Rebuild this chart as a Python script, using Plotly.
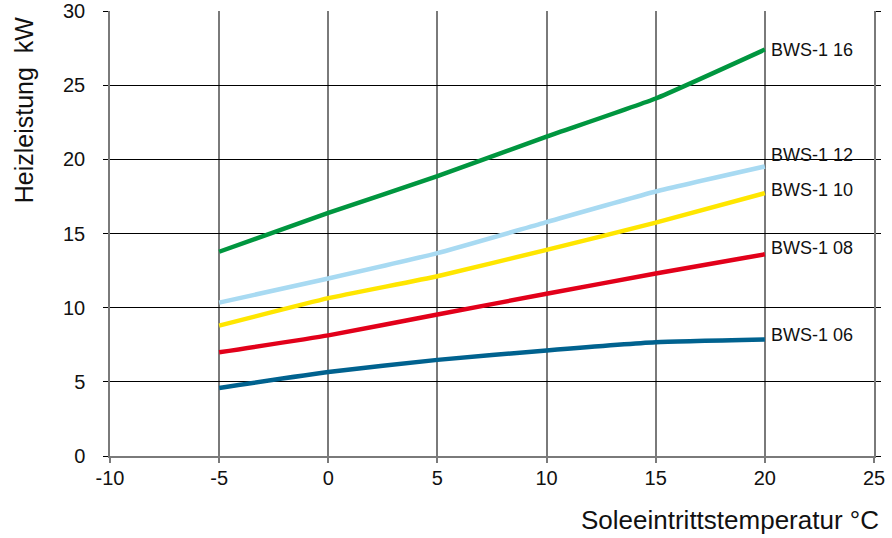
import plotly.graph_objects as go

# Data
temps = [-5, 0, 5, 10, 15, 20]
series_names = ["BWS-1 16", "BWS-1 12", "BWS-1 10", "BWS-1 08", "BWS-1 06"]
bws_16 = [13.77, 16.39, 18.86, 21.53, 24.10, 27.40]
bws_12 = [10.34, 11.97, 13.68, 15.77, 17.83, 19.52]
bws_10 = [8.79, 10.64, 12.12, 13.90, 15.73, 17.72]
bws_08 = [6.99, 8.13, 9.54, 10.94, 12.30, 13.60]
bws_06 = [4.59, 5.66, 6.48, 7.12, 7.67, 7.85]
x_ticks = [-10, -5, 0, 5, 10, 15, 20, 25]
y_ticks = [0, 5, 10, 15, 20, 25, 30]

series_values = [bws_16, bws_12, bws_10, bws_08, bws_06]
colors = ["#00963f", "#a8daf2", "#ffe600", "#e2001a", "#00628f"]
label_yshift = [0, 11, 3, 6, 5]

fig = go.Figure()
for name, vals, col in zip(series_names, series_values, colors):
    fig.add_trace(go.Scatter(
        x=temps, y=vals, mode="lines", name=name,
        line=dict(color=col, width=4.5, shape="spline", smoothing=0.4),
        showlegend=False, hoverinfo="skip"))

for name, vals, dy in zip(series_names, series_values, label_yshift):
    fig.add_annotation(x=temps[-1], y=vals[-1], text=name, showarrow=False,
                       xanchor="left", yanchor="middle", xshift=4, yshift=dy,
                       font=dict(family="Liberation Sans, Arial", size=18, color="#111"))

fig.add_annotation(xref="paper", yref="paper", x=1.009, y=-0.105,
                   text="Soleeintrittstemperatur °C", showarrow=False,
                   xanchor="right", yanchor="top",
                   font=dict(family="Liberation Sans, Arial", size=26, color="#111"))
fig.add_annotation(xref="paper", yref="paper", x=-0.113, y=0.993,
                   text="Heizleistung\u00a0 kW", showarrow=False, textangle=-90,
                   xanchor="center", yanchor="top",
                   font=dict(family="Liberation Sans, Arial", size=25, color="#111"))

fig.update_layout(
    width=892, height=538,
    margin=dict(l=110, r=18, t=11, b=82),
    plot_bgcolor="white", paper_bgcolor="white",
    font=dict(family="Liberation Sans, Arial", color="#111"),
)
fig.update_xaxes(
    range=[-10, 25], tickvals=x_ticks, ticktext=[str(v) for v in x_ticks],
    showgrid=True, gridcolor="#7a7a7a", gridwidth=1.5,
    showline=True, linecolor="#7a7a7a", linewidth=1.5,
    ticks="outside", ticklen=5, tickcolor="#7a7a7a", tickwidth=1.5,
    zeroline=False, tickfont=dict(size=20, color="#111"), ticklabelstandoff=-2,
    automargin=False,
)
fig.update_yaxes(
    range=[0, 30], tickvals=y_ticks, ticktext=[str(v) for v in y_ticks],
    showgrid=True, gridcolor="#000000", gridwidth=1.2,
    showline=True, linecolor="#7a7a7a", linewidth=1.5, mirror="ticks",
    ticks="outside", ticklen=5, tickcolor="#000000", tickwidth=1.2,
    zeroline=False, tickfont=dict(size=20, color="#111"), ticklabelstandoff=14,
    automargin=False,
)

fig.write_html("out.html")
